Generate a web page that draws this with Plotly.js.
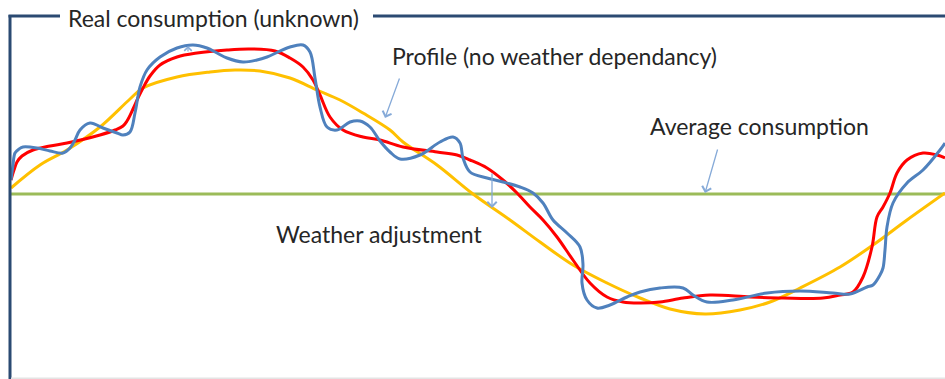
<!DOCTYPE html>
<html>
<head>
<meta charset="utf-8">
<script src="https://cdn.plot.ly/plotly-3.0.1.min.js"></script>
<style>
  html, body { margin: 0; padding: 0; background: #ffffff; }
  #chart { width: 945px; height: 379px; }
</style>
</head>
<body>
<div id="chart"></div>
<script>
// Time (arbitrary units) and consumption (arbitrary units)
const profileT = [0,29,56,89,119,132,166,199,224,249,279,306,329,352,379,392,426,462,499,529,562,596,629,659,694,729,759,789,829,862,896,934];
const profileV = [191,214,229,252,280,291,302,307,309,308,301,289,279,266,249,237,214,185,159,137,114,96,81,70,65,69,77,91,112,134,159,186];

const adjustedT = [0,3,6,11,22,39,56,89,104,112,116,122,127,132,139,149,166,186,216,239,264,279,292,302,309,319,332,352,369,392,426,446,459,476,492,506,519,532,546,562,579,596,612,629,649,672,699,739,772,812,829,842,852,861,866,872,879,886,896,912,926,934];
const adjustedV = [199,209,217,223,229,233,236,244,249,253,258,270,281,291,303,314,322,326,329,330,328,321,312,299,284,262,249,242,239,232,227,224,219,211,199,186,172,159,142,119,96,82,77,76,77,81,84,82,81,81,84,87,102,132,162,172,186,206,219,226,224,221];

const realT = [0,2,4,8,12,26,39,52,59,64,69,79,92,106,112,119,124,129,136,149,166,182,196,206,216,232,246,256,279,292,299,304,309,316,326,339,349,359,369,379,389,409,429,442,449,452,459,476,492,509,522,532,542,556,569,572,571,576,586,599,616,629,649,672,682,696,722,756,789,822,839,856,862,869,872,874,876,882,896,912,929,934];
const realV = [199,214,226,230,232,231,228,226,231,239,249,256,251,246,244,247,266,292,309,322,331,334,331,326,321,317,319,322,332,334,327,301,272,252,249,257,258,252,238,227,220,224,237,242,236,221,207,201,197,192,186,176,159,146,132,114,96,79,71,74,82,87,91,91,84,77,79,86,88,86,85,92,94,104,111,129,152,176,196,209,229,236];

const averageT = [0, 934];
const averageV = [185, 185];

const labels = {
  real: "Real consumption (unknown)",
  profile: "Profile (no weather dependancy)",
  average: "Average consumption",
  weather: "Weather adjustment"
};

const FONT = "Lato, 'Open Sans', sans-serif";
const TXT = "#262626";
const ARROW = "#86aad8";
const FRAME = "#2b4a72";

const traces = [
  { x: averageT, y: averageV, mode: "lines", line: { color: "#9bbb59", width: 3 }, hoverinfo: "skip" },
  { x: profileT, y: profileV, mode: "lines", line: { color: "#ffc000", width: 3, shape: "spline", smoothing: 1 }, hoverinfo: "skip" },
  { x: adjustedT, y: adjustedV, mode: "lines", line: { color: "#ff0000", width: 3, shape: "spline", smoothing: 1 }, hoverinfo: "skip" },
  { x: realT, y: realV, mode: "lines", line: { color: "#4f81bd", width: 3, shape: "spline", smoothing: 1 }, hoverinfo: "skip" }
];

const layout = {
  width: 945, height: 379,
  margin: { l: 0, r: 0, t: 0, b: 0 },
  paper_bgcolor: "#ffffff", plot_bgcolor: "#ffffff",
  showlegend: false,
  xaxis: { range: [-11, 934], visible: false, fixedrange: true },
  yaxis: { range: [0, 379], visible: false, fixedrange: true },
  shapes: [
    { type: "line", xref: "x", yref: "y", x0: -1, x1: -1, y0: 364, y1: 0, line: { color: FRAME, width: 3 } },
    { type: "line", xref: "x", yref: "y", x0: -2.5, x1: 49, y0: 363, y1: 363, line: { color: FRAME, width: 3 } },
    { type: "line", xref: "x", yref: "y", x0: 362, x1: 934, y0: 363, y1: 363, line: { color: FRAME, width: 3 } },
    { type: "line", xref: "x", yref: "y", x0: 0, x1: 934, y0: 0.8, y1: 0.8, line: { color: "#e4e4e4", width: 1.5 } }
  ],
  annotations: [
    { x: 202, y: 361, xref: "x", yref: "y", text: labels.real, showarrow: false, font: { family: FONT, size: 23, color: TXT } },
    { x: 543, y: 323, xref: "x", yref: "y", text: labels.profile, showarrow: false, font: { family: FONT, size: 23, color: TXT } },
    { x: 748, y: 253, xref: "x", yref: "y", text: labels.average, showarrow: false, font: { family: FONT, size: 23, color: TXT } },
    { x: 368, y: 145, xref: "x", yref: "y", text: labels.weather, showarrow: false, font: { family: FONT, size: 23, color: TXT } },
    { x: 374, y: 261, xref: "x", yref: "y", text: "", showarrow: true, ax: 15, ay: -41, arrowhead: 4, arrowsize: 1.4, arrowwidth: 1.3, arrowcolor: ARROW },
    { x: 694, y: 186, xref: "x", yref: "y", text: "", showarrow: true, ax: 13, ay: -45, arrowhead: 4, arrowsize: 1.4, arrowwidth: 1.3, arrowcolor: ARROW },
    { x: 481, y: 171, xref: "x", yref: "y", text: "", showarrow: true, ax: 0, ay: -36, arrowhead: 4, arrowsize: 1.4, arrowwidth: 1.3, arrowcolor: ARROW },
    { x: 177, y: 333, xref: "x", yref: "y", text: "", showarrow: true, ax: 0, ay: 7, arrowhead: 4, arrowsize: 1.2, arrowwidth: 1.2, arrowcolor: ARROW }
  ]
};

Plotly.newPlot("chart", traces, layout, { staticPlot: true, displayModeBar: false });
</script>
</body>
</html>
